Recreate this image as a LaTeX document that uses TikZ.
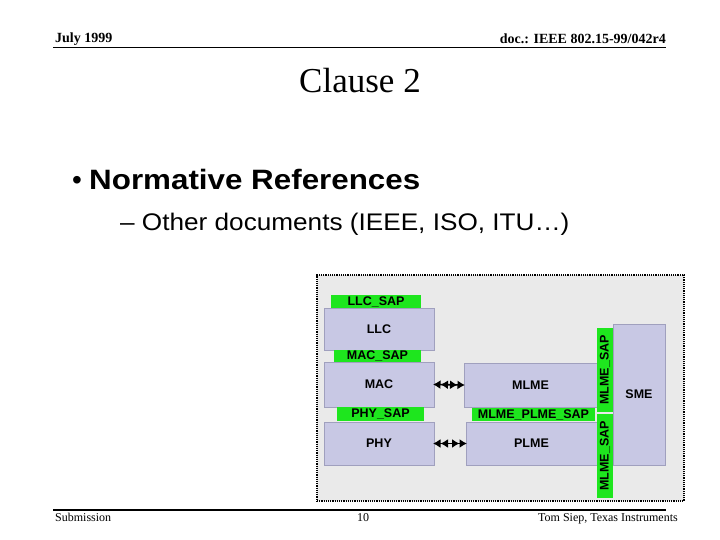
\documentclass[tikz,border=0pt]{standalone}
\usepackage{fontspec}
\setmainfont{Liberation Serif}
\newfontfamily\arial{Liberation Sans}
\newfontfamily\arialw[FakeStretch=1.12]{Liberation Sans}
\newfontfamily\arialv[FakeStretch=1.09]{Liberation Sans}
\usetikzlibrary{arrows.meta}
\definecolor{lav}{RGB}{200,200,228}
\definecolor{lavedge}{RGB}{160,160,190}
\definecolor{sapgreen}{RGB}{30,230,30}
\definecolor{framefill}{RGB}{234,234,234}
\tikzset{
  layer/.style={fill=lav, draw=lavedge, line width=0.6pt, inner sep=0pt, outer sep=0pt,
    font=\arial\bfseries\fontsize{12.5}{14}\selectfont},
  sap/.style={fill=sapgreen, inner sep=0pt, outer sep=0pt,
    font=\arial\bfseries\fontsize{12.5}{14}\selectfont},
  dbl/.style={line width=1.6pt, shorten <=-1pt, shorten >=-1pt,
    {Latex[length=7.5pt,width=9pt]Latex[length=7.5pt,width=9pt]}-{Latex[length=7.5pt,width=9pt]Latex[length=7.5pt,width=9pt]}},
  hdr/.style={inner sep=0pt, font=\bfseries\fontsize{14}{16}\selectfont},
  ftr/.style={inner sep=0pt, font=\fontsize{12}{14}\selectfont},
}
\begin{document}
\begin{tikzpicture}[x=1pt,y=-1pt]
\useasboundingbox (0,0) rectangle (720,540);
% header
\node[hdr, anchor=base west] (date) at (55,43) {July 1999};
\node[hdr, anchor=base east] (doc) at (666,44) {doc.: IEEE 802.15-99/042r4};
\coordinate (hl) at (53,47.5);
\coordinate (hr) at (666,47.5);
\draw[line width=1.8pt] (hl) -- (hr);
% title
\node[inner sep=0pt, anchor=base, font=\fontsize{35}{40}\selectfont] (title) at (360,93) {Clause 2};
% bullets
\node[inner sep=0pt, anchor=base, font=\arial\fontsize{28}{30}\selectfont] (bul) at (77,190) {•};
\node[inner sep=0pt, anchor=base west, font=\arialw\bfseries\fontsize{28}{30}\selectfont] (b1) at (89,190) {Normative References};
\node[inner sep=0pt, anchor=base west, font=\arialv\fontsize{24}{26}\selectfont] (b2) at (120,230) {– Other documents (IEEE, ISO, ITU…)};
% frame
\node[fill=framefill, draw=black, densely dotted, line width=1.2pt, inner sep=0pt,
  minimum width=367pt, minimum height=226pt] (frame) at (500.5,388) {};
% layers
\node[sap, minimum width=90pt, minimum height=13pt] (llcsap) at (376,301.5) {LLC\_SAP};
\node[layer, minimum width=110pt, minimum height=42pt] (llc) at (379,329) {LLC};
\node[sap, minimum width=87pt, minimum height=12pt] (macsap) at (377.5,356) {MAC\_SAP};
\node[layer, minimum width=110pt, minimum height=45pt] (mac) at (379,384.5) {MAC};
\node[sap, minimum width=87pt, minimum height=14pt] (physap) at (380.5,414) {PHY\_SAP};
\node[layer, minimum width=110pt, minimum height=43pt] (phy) at (379,443.5) {PHY};
\node[layer, minimum width=133pt, minimum height=44pt] (mlme) at (530.5,385) {MLME};
\node[sap, minimum width=123pt, minimum height=13pt] (mpsap) at (533.5,414.5) {MLME\_PLME\_SAP};
\node[layer, minimum width=131pt, minimum height=43pt] (plme) at (531.5,443.5) {PLME};
\node[layer, minimum width=52pt, minimum height=141pt] (sme) at (639,394.5) {SME};
\node[sap, minimum width=16pt, minimum height=84pt] (msap1) at (605,370) {};
\node[sap, rotate=90, inner sep=0pt] (msap1t) at (msap1.center) {MLME\_SAP};
\node[sap, minimum width=16pt, minimum height=84pt] (msap2) at (605,456) {};
\node[sap, rotate=90, inner sep=0pt] (msap2t) at (msap2.center) {MLME\_SAP};
% arrows
\draw[dbl] (mac.east) -- (mlme.west);
\draw[dbl] (phy.east) -- (plme.west);
% footer
\coordinate (fl) at (53,510);
\coordinate (fr) at (666,510);
\draw[line width=1.8pt] (fl) -- (fr);
\node[ftr, anchor=base west] (sub) at (55,521) {Submission};
\node[ftr, anchor=base] (pg) at (363,521) {10};
\node[ftr, anchor=base east] (auth) at (678,521) {Tom Siep, Texas Instruments};
\end{tikzpicture}
\end{document}
